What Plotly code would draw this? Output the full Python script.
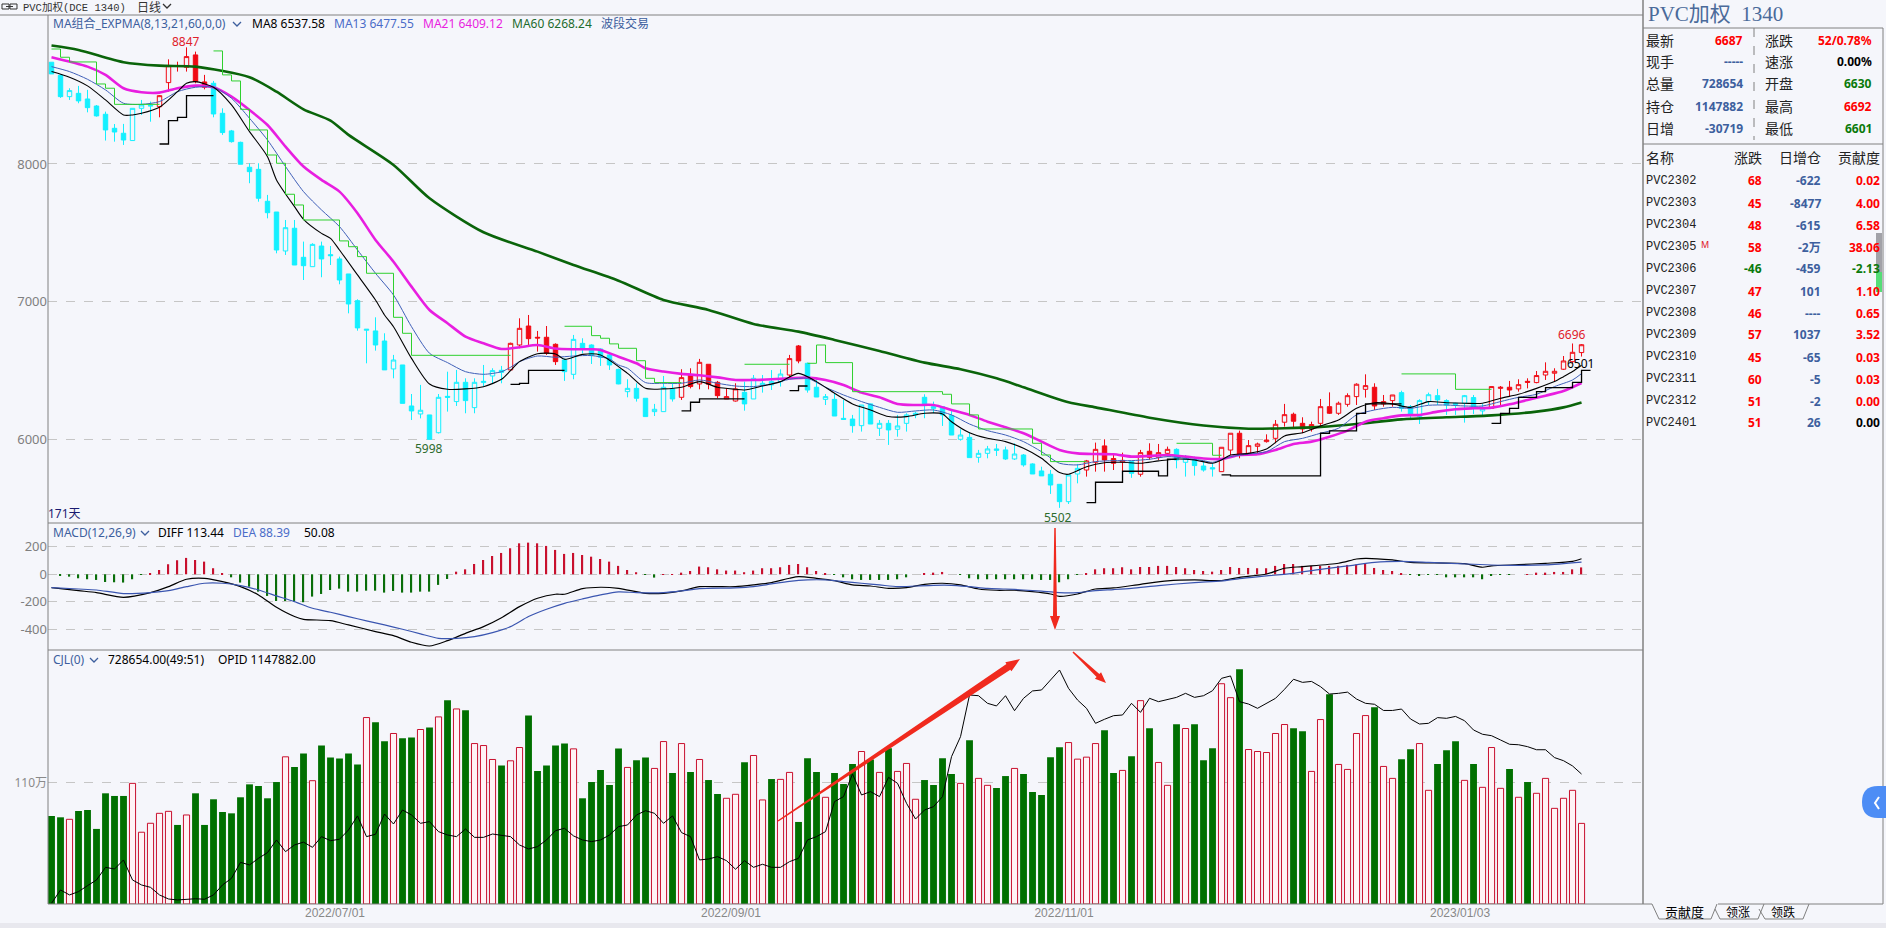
import math

import plotly.graph_objects as go

W, H = 1886, 928
BG = '#f5f6fb'
RED = '#c8102e'
BLUE = '#3d5f9e'
GRID = '#c6c6c6'

# candles, 171 trading days
opens = [8739, 8644, 8489, 8513, 8472, 8421, 8361, 8259, 8223, 8170,
         8404, 8420, 8416, 8591, 8714, 8702, 8792, 8596, 8586, 8368,
         8240, 8157, 7976, 7961, 7729, 7651, 7368, 7533, 7322, 7254,
         7404, 7341, 7310, 7201, 7007, 6792, 6787, 6714, 6511, 6540,
         6242, 6184, 6177, 6048, 6312, 6274, 6414, 6230, 6412, 6460,
         6501, 6504, 6685, 6823, 6741, 6741, 6690, 6576, 6472, 6697,
         6685, 6656, 6613, 6508, 6346, 6370, 6298, 6201, 6201, 6366,
         6305, 6467, 6402, 6545, 6414, 6293, 6278, 6341, 6293, 6395,
         6395, 6419, 6467, 6678, 6552, 6378, 6290, 6290, 6152, 6147,
         6099, 6257, 6080, 6116, 6073, 6116, 6177, 6305, 6237, 6237,
         6172, 6000, 6014, 5869, 5898, 5930, 5923, 5857, 5886, 5821,
         5770, 5746, 5673, 5547, 5748, 5777, 5833, 5952, 5860, 5835,
         5838, 5746, 5913, 5869, 5898, 5927, 5833, 5855, 5806, 5794,
         5765, 5922, 6044, 5898, 5949, 5983, 6007, 6124, 6182, 6116,
         6075, 6116, 6237, 6189, 6254, 6310, 6363, 6378, 6257, 6281,
         6339, 6237, 6165, 6274, 6317, 6281, 6262, 6262, 6303, 6206,
         6225, 6370, 6378, 6366, 6421, 6412, 6467, 6480, 6509, 6564, 6630]
closes = [8654, 8489, 8533, 8458, 8409, 8349, 8247, 8232, 8174, 8404,
          8429, 8425, 8496, 8714, 8710, 8780, 8598, 8557, 8363, 8228,
          8162, 7998, 7944, 7751, 7646, 7375, 7537, 7266, 7261, 7416,
          7310, 7334, 7157, 6983, 6809, 6799, 6685, 6504, 6576, 6261,
          6206, 6211, 6000, 6305, 6305, 6414, 6281, 6414, 6421, 6499,
          6487, 6697, 6806, 6731, 6736, 6625, 6564, 6491, 6726, 6656,
          6608, 6596, 6540, 6402, 6370, 6298, 6165, 6218, 6378, 6293,
          6448, 6383, 6559, 6400, 6317, 6310, 6366, 6257, 6443, 6407,
          6419, 6474, 6586, 6569, 6358, 6307, 6310, 6169, 6145, 6099,
          6249, 6111, 6116, 6068, 6097, 6177, 6189, 6245, 6225, 6177,
          6031, 6031, 5867, 5898, 5930, 5920, 5857, 5893, 5814, 5748,
          5734, 5668, 5547, 5741, 5789, 5843, 5927, 5850, 5826, 5847,
          5753, 5903, 5869, 5903, 5927, 5850, 5862, 5809, 5777, 5785,
          5942, 6044, 5886, 5954, 5966, 5995, 6109, 6179, 6131, 6075,
          6107, 6237, 6189, 6262, 6317, 6400, 6390, 6242, 6274, 6322,
          6225, 6177, 6281, 6324, 6286, 6249, 6254, 6317, 6230, 6225,
          6383, 6378, 6358, 6397, 6414, 6463, 6494, 6494, 6569, 6632, 6687]
highs = [8739, 8650, 8550, 8567, 8538, 8428, 8380, 8290, 8291, 8404,
         8465, 8453, 8501, 8760, 8743, 8847, 8816, 8647, 8603, 8404,
         8247, 8162, 8005, 8005, 7775, 7651, 7593, 7593, 7436, 7424,
         7436, 7404, 7327, 7201, 7017, 6799, 6886, 6770, 6613, 6540,
         6329, 6395, 6177, 6329, 6491, 6504, 6443, 6443, 6540, 6516,
         6533, 6702, 6879, 6903, 6787, 6823, 6697, 6588, 6758, 6734,
         6690, 6661, 6620, 6513, 6436, 6407, 6298, 6257, 6460, 6407,
         6509, 6516, 6584, 6545, 6424, 6370, 6407, 6419, 6467, 6467,
         6503, 6508, 6613, 6685, 6557, 6443, 6329, 6334, 6286, 6177,
         6249, 6261, 6140, 6140, 6177, 6189, 6201, 6327, 6274, 6242,
         6213, 6073, 6048, 5923, 5952, 5966, 5947, 5971, 5893, 5826,
         5801, 5777, 5673, 5741, 5821, 5850, 5976, 6000, 5898, 5903,
         5838, 5923, 5971, 5966, 5947, 5935, 5886, 5874, 5838, 5826,
         5942, 6044, 6063, 5995, 5976, 6036, 6140, 6257, 6194, 6160,
         6128, 6293, 6341, 6274, 6334, 6407, 6472, 6407, 6322, 6322,
         6353, 6249, 6291, 6339, 6366, 6291, 6266, 6322, 6322, 6257,
         6383, 6387, 6424, 6436, 6443, 6496, 6559, 6516, 6605, 6696, 6692]
lows = [8654, 8480, 8465, 8441, 8375, 8344, 8170, 8162, 8138, 8170,
        8356, 8307, 8339, 8525, 8671, 8671, 8586, 8542, 8339, 8211,
        8155, 7998, 7860, 7726, 7605, 7351, 7339, 7266, 7157, 7254,
        7177, 7266, 7126, 6915, 6789, 6552, 6644, 6504, 6443, 6261,
        6140, 6152, 5998, 6042, 6201, 6242, 6189, 6189, 6382, 6407,
        6407, 6499, 6661, 6673, 6637, 6613, 6540, 6424, 6436, 6625,
        6547, 6533, 6504, 6400, 6305, 6274, 6165, 6169, 6201, 6274,
        6286, 6370, 6363, 6363, 6298, 6293, 6274, 6208, 6293, 6339,
        6358, 6383, 6443, 6552, 6339, 6307, 6249, 6169, 6145, 6048,
        6056, 6111, 6024, 5959, 6019, 6056, 6153, 6153, 6189, 6097,
        6031, 5990, 5867, 5830, 5862, 5879, 5850, 5850, 5801, 5748,
        5734, 5603, 5502, 5530, 5680, 5729, 5765, 5765, 5777, 5765,
        5720, 5729, 5850, 5850, 5874, 5789, 5729, 5736, 5765, 5729,
        5765, 5886, 5862, 5898, 5898, 5976, 5971, 6092, 6080, 6044,
        6056, 6092, 6184, 6177, 6237, 6249, 6303, 6213, 6237, 6237,
        6201, 6145, 6111, 6249, 6249, 6177, 6177, 6121, 6184, 6169,
        6225, 6237, 6310, 6346, 6370, 6407, 6431, 6419, 6504, 6552, 6601]
red_days = [12, 13, 14, 15, 16, 17, 51, 52, 53, 54, 55, 56, 70, 71, 72, 73, 74, 75, 76, 82, 83,
            115, 116, 117, 118, 119, 121, 122, 123, 124, 130, 131, 132, 133, 134, 135, 136, 137,
            138, 139, 140, 141, 142, 143, 144, 145, 146, 147, 148, 149, 160, 161, 162, 163, 164,
            165, 166, 167, 168, 169, 170]

ma8_x = [0, 2, 4, 6, 8, 9, 10, 12, 14, 15, 16, 18, 20, 22, 24, 25, 27, 28, 30, 31, 32, 34, 36, 37, 38,
         40, 42, 44, 46, 48, 50, 51, 52, 54, 56, 57, 59, 61, 64, 66, 68, 70, 72, 74, 76, 77, 79, 81,
         83, 85, 87, 89, 91, 93, 95, 97, 99, 100, 102, 104, 106, 108, 110, 112, 113, 115, 117, 119,
         121, 123, 125, 127, 129, 130, 131, 133, 135, 137, 139, 141, 143, 145, 147, 149, 151, 153,
         155, 157, 159, 161, 163, 165, 167, 168, 169, 170]
ma8 = [8671, 8630, 8567, 8465, 8356, 8356, 8368, 8412, 8525, 8586, 8598, 8557, 8429, 8235, 8053, 7884,
       7690, 7598, 7496, 7460, 7375, 7194, 7012, 6903, 6818, 6588, 6402, 6363, 6366, 6382, 6436, 6499,
       6564, 6622, 6620, 6581, 6617, 6613, 6479, 6370, 6366, 6378, 6419, 6378, 6363, 6358, 6387, 6419,
       6479, 6419, 6334, 6257, 6213, 6165, 6165, 6189, 6184, 6128, 6048, 6007, 5983, 5935, 5862, 5758,
       5746, 5801, 5830, 5833, 5826, 5843, 5857, 5850, 5826, 5850, 5886, 5898, 5930, 6024, 6048, 6097,
       6140, 6225, 6266, 6257, 6232, 6274, 6266, 6262, 6262, 6298, 6327, 6370, 6419, 6455, 6492, 6538]

ma13_x = [0, 2, 4, 6, 8, 10, 12, 14, 16, 18, 20, 22, 24, 26, 28, 30, 32, 34, 36, 38, 40, 42, 44, 46, 48,
          50, 51, 52, 54, 56, 58, 60, 62, 63, 64, 66, 68, 70, 72, 74, 76, 78, 80, 82, 84, 86, 88, 90,
          92, 94, 96, 98, 100, 102, 104, 106, 108, 110, 112, 114, 116, 118, 120, 122, 124, 126, 128,
          129, 131, 133, 135, 137, 139, 141, 143, 145, 147, 149, 151, 153, 155, 157, 159, 161, 163,
          165, 167, 169, 170]
ma13 = [8707, 8671, 8615, 8538, 8441, 8433, 8453, 8525, 8557, 8557, 8477, 8332, 8174, 7981, 7799, 7666,
        7545, 7375, 7206, 7048, 6818, 6625, 6557, 6491, 6472, 6491, 6523, 6564, 6605, 6596, 6605, 6608,
        6583, 6540, 6516, 6412, 6407, 6407, 6431, 6407, 6387, 6383, 6402, 6436, 6443, 6378, 6322, 6274,
        6232, 6196, 6206, 6213, 6177, 6111, 6063, 6031, 5983, 5910, 5826, 5814, 5838, 5845, 5845, 5855,
        5874, 5862, 5845, 5833, 5874, 5893, 5910, 5983, 6007, 6044, 6080, 6177, 6213, 6232, 6225, 6247,
        6249, 6242, 6242, 6274, 6305, 6327, 6383, 6431, 6477]

ma21_x = [0, 4, 6, 8, 10, 12, 14, 16, 18, 20, 22, 24, 26, 28, 30, 32, 34, 36, 38, 40, 42, 44, 46, 48, 50,
          52, 54, 56, 58, 60, 61, 63, 65, 66, 68, 70, 72, 74, 76, 78, 80, 82, 84, 86, 88, 90, 92, 94, 96,
          98, 100, 102, 104, 106, 108, 110, 112, 114, 116, 118, 120, 122, 124, 126, 128, 130, 132, 134,
          136, 138, 140, 142, 144, 146, 148, 150, 152, 154, 156, 158, 160, 162, 164, 166, 168, 170]
ma21 = [8775, 8707, 8647, 8550, 8521, 8518, 8550, 8569, 8557, 8489, 8392, 8283, 8126, 7981, 7884, 7799,
        7642, 7448, 7290, 7109, 6939, 6843, 6746, 6697, 6656, 6668, 6685, 6659, 6654, 6654, 6649, 6600,
        6552, 6516, 6492, 6475, 6465, 6450, 6431, 6431, 6436, 6443, 6448, 6431, 6395, 6339, 6305, 6257,
        6249, 6249, 6213, 6177, 6128, 6087, 6044, 5983, 5923, 5898, 5893, 5891, 5874, 5879, 5886, 5874,
        5860, 5857, 5886, 5891, 5923, 5966, 5983, 6019, 6063, 6128, 6153, 6174, 6177, 6201, 6218, 6225,
        6230, 6254, 6286, 6317, 6351, 6409]

ma60_x = [0, 3, 8, 12, 16, 22, 25, 28, 31, 33, 38, 42, 48, 54, 58, 63, 68, 73, 78, 83, 87, 92, 97, 101, 105,
          108, 113, 116, 122, 128, 133, 137, 141, 145, 150, 155, 160, 165, 168, 170]
ma60 = [8860, 8828, 8739, 8714, 8707, 8630, 8525, 8397, 8315, 8211, 7993, 7751, 7504, 7363, 7266, 7152,
        7012, 6940, 6838, 6782, 6722, 6642, 6557, 6509, 6443, 6378, 6269, 6232, 6157, 6100, 6077, 6080,
        6090, 6111, 6145, 6160, 6174, 6201, 6232, 6268]

# band lines, None breaks a run
band_green_x = [0, 1, 2, 5, 6, 7, 12, None,
                18, 19, 20, 21, 22, 24, 25, 26, 27, 28, 32, 33, 34, 35, 38, 39, 40, 51, None,
                57, 60, 61, 62, 63, 65, 66, 67, 70, None,
                77, 82, None,
                84, 85, 86, 89, 99, 100, 102, 103, 109, 110, 111, 115, None,
                125, 129, 130, None,
                150, 156, 160]
band_green = [8835, 8775, 8741, 8581, 8550, 8433, 8433, None,
              8821, 8647, 8603, 8397, 8247, 8065, 8005, 7780, 7702, 7593, 7441, 7399, 7327, 7206, 6886,
              6770, 6610, 6610, None,
              6821, 6753, 6734, 6693, 6661, 6571, 6443, 6412, 6412, None,
              6545, 6545, None,
              6552, 6685, 6557, 6346, 6327, 6257, 6177, 6075, 5971, 5886, 5838, 5838, None,
              5971, 5884, 5884, None,
              6475, 6363, 6363]
band_black_x = [12, 13, 14, 15, 18, None,
                51, 52, 53, 57, None,
                70, 71, 72, 77, None,
                82, 83, 84, None,
                115, 116, 119, 123, 124, 125, None,
                130, 131, 141, 142, 145, 146, 150, None,
                160, 161, 162, 163, 165, 166, 169, 170, 171]
band_black = [8145, 8315, 8339, 8496, 8496, None,
              6399, 6406, 6501, 6501, None,
              6206, 6269, 6293, 6293, None,
              6354, 6387, 6387, None,
              5540, 5688, 5768, 5734, 5855, 5855, None,
              5741, 5734, 6044, 6061, 6189, 6257, 6257, None,
              6116, 6189, 6225, 6305, 6346, 6375, 6414, 6501, 6501]

# MACD
macd_hist = [0, -7, -17, -29, -36, -41, -56, -58, -60, -36,
             -2, 7, 31, 73, 102, 119, 104, 92, 44, 7,
             -22, -60, -90, -126, -157, -194, -194, -199, -203, -162,
             -143, -114, -104, -126, -126, -119, -119, -133, -121, -133,
             -133, -126, -126, -77, -34, 19, 36, 75, 104, 133,
             155, 189, 225, 230, 225, 206, 177, 148, 155, 140,
             128, 111, 92, 61, 31, 15, -2, -24, 2, 2,
             12, 24, 56, 51, 36, 27, 27, 15, 27, 44,
             44, 51, 68, 75, 51, 24, 7, -2, -22, -36,
             -41, -41, -41, -41, -36, -22, 0, 7, 12, 17,
             0, -2, -29, -36, -36, -36, -36, -36, -36, -36,
             -41, -41, -58, -36, -2, 7, 36, 44, 44, 51,
             36, 53, 53, 61, 61, 53, 44, 31, 24, 19,
             31, 53, 46, 46, 44, 44, 61, 75, 75, 61,
             61, 61, 61, 61, 68, 70, 80, 46, 31, 24,
             7, -5, -7, -5, -5, -22, -22, -22, -22, -36,
             -12, -5, -5, 0, 2, 12, 12, 17, 17, 36, 50]
diff_x = [0, 3, 5, 8, 11, 13, 15, 17, 19, 21, 23, 25, 27, 28, 31, 33, 36, 38, 40, 42, 44, 46, 48, 50, 52,
          54, 56, 57, 59, 61, 63, 66, 68, 70, 72, 74, 76, 78, 80, 82, 83, 85, 87, 89, 91, 93, 95, 97, 99,
          101, 103, 105, 107, 109, 111, 112, 114, 116, 118, 121, 124, 127, 130, 132, 135, 137, 139, 143,
          145, 146, 149, 151, 157, 159, 160, 163, 166, 169, 170]
diff = [-97, -119, -133, -167, -133, -90, -36, -29, -53, -90, -150, -240, -307, -327, -337, -368, -416,
        -446, -494, -521, -482, -429, -380, -315, -235, -174, -145, -145, -104, -94, -102, -138, -138,
        -121, -90, -90, -90, -77, -60, -29, -17, -29, -46, -77, -85, -102, -97, -73, -65, -77, -107, -116,
        -116, -126, -143, -160, -143, -107, -99, -73, -48, -41, -46, -22, 2, 44, 56, 80, 111, 116, 104, 87,
        77, 51, 61, 70, 80, 94, 113]
dea_x = [0, 3, 5, 8, 11, 13, 15, 17, 19, 21, 23, 25, 27, 29, 31, 33, 35, 37, 39, 41, 43, 45, 47, 49, 51, 53,
         55, 57, 59, 61, 63, 65, 68, 70, 72, 76, 78, 80, 82, 84, 86, 88, 90, 92, 94, 96, 98, 100, 102, 104,
         106, 108, 110, 112, 114, 116, 118, 120, 123, 127, 130, 132, 135, 138, 141, 144, 147, 150, 153, 158,
         162, 166, 170]
dea = [-97, -107, -114, -140, -133, -119, -90, -65, -65, -82, -114, -157, -199, -247, -276, -307, -339,
       -368, -399, -433, -465, -465, -453, -424, -380, -307, -254, -211, -179, -150, -128, -133, -133, -121,
       -104, -99, -90, -70, -51, -41, -41, -53, -65, -77, -90, -85, -80, -80, -90, -102, -107, -114, -123,
       -133, -133, -119, -111, -102, -82, -60, -48, -31, -12, 7, 36, 61, 87, 94, 87, 73, 65, 68, 88]

# volume in 万手, open interest in 万手 on its own hidden scale
volume = [79.6, 78.4, 76.6, 84.1, 85.0, 67.9, 100.1, 97.7, 97.7, 109.1,
          64.9, 73.0, 82.0, 83.8, 71.5, 80.5, 100.1, 71.5, 94.7, 83.2,
          82.0, 96.5, 108.2, 106.7, 95.6, 110.3, 133.1, 123.8, 136.1, 111.5,
          143.3, 132.5, 131.6, 136.1, 126.2, 168.6, 164.4, 147.2, 154.2, 150.0,
          150.6, 157.8, 159.6, 169.2, 184.2, 176.4, 175.2, 145.1, 143.3, 130.7,
          125.3, 129.5, 141.5, 170.4, 120.2, 125.3, 143.3, 145.1, 140.3, 95.6,
          110.3, 121.1, 107.6, 140.6, 123.5, 130.1, 132.5, 122.6, 146.9, 118.4,
          145.1, 119.3, 130.7, 112.1, 99.5, 95.6, 99.2, 128.3, 134.3, 94.1,
          113.0, 112.7, 119.0, 74.2, 131.9, 119.3, 96.5, 118.4, 108.5, 126.5,
          137.9, 130.7, 119.0, 140.9, 119.9, 127.1, 94.7, 112.1, 107.6, 131.9,
          117.5, 109.1, 148.1, 113.6, 107.3, 104.9, 115.7, 122.6, 117.5, 101.3,
          98.6, 132.8, 141.8, 146.0, 131.0, 132.8, 145.1, 157.2, 118.4, 120.8,
          133.7, 183.9, 159.0, 128.0, 107.3, 162.6, 158.7, 162.6, 130.1, 140.9,
          199.2, 186.6, 212.2, 139.7, 137.9, 137.0, 154.2, 162.3, 159.0, 156.3,
          119.9, 166.8, 189.6, 126.2, 121.7, 154.2, 170.4, 177.9, 124.4, 113.6,
          131.0, 140.0, 145.1, 102.8, 126.5, 139.1, 147.2, 111.8, 126.5, 105.5,
          141.5, 104.6, 122.0, 96.5, 110.3, 100.1, 113.6, 86.5, 95.6, 102.8, 72.9]
vol_up_days = [2, 9, 10, 11, 12, 13, 15, 26, 29, 35, 38, 41, 43, 45, 47, 48, 49, 51, 52, 58, 64, 67, 68, 70,
               72, 75, 76, 78, 79, 81, 82, 86, 90, 92, 94, 95, 96, 101, 103, 104, 107, 113, 114, 115, 116,
               119, 121, 123, 124, 126, 130, 131, 133, 134, 135, 136, 137, 140, 141, 143, 144, 145, 146,
               148, 149, 152, 153, 157, 159, 160, 161, 163, 165, 166, 167, 168, 169, 170]
open_interest = [60.5, 66.1, 64.0, 65.4, 67.9, 70.3, 75.6, 74.9, 78.7, 70.3,
                 68.2, 67.2, 64.0, 62.3, 61.9, 62.2, 62.4, 62.2, 64.0, 68.2,
                 71.0, 77.7, 76.6, 79.4, 81.8, 87.1, 82.2, 85.0, 86.2, 84.0,
                 88.5, 86.8, 87.4, 91.3, 97.2, 88.5, 89.5, 98.0, 93.8, 99.7,
                 97.6, 94.1, 94.8, 90.6, 89.2, 88.5, 91.7, 88.2, 88.2, 89.6,
                 89.2, 88.5, 85.0, 83.3, 84.3, 87.1, 91.0, 92.0, 88.8, 87.1,
                 86.4, 87.1, 89.2, 92.7, 93.4, 97.6, 99.4, 98.3, 94.1, 97.2,
                 90.2, 88.5, 78.7, 79.1, 80.1, 78.4, 74.8, 78.4, 75.6, 76.9,
                 75.6, 75.6, 78.0, 79.4, 87.1, 88.5, 90.6, 103.2, 105.3, 114.8,
                 106.0, 107.4, 105.3, 113.4, 110.9, 102.5, 95.9, 99.7, 101.1, 105.3,
                 122.1, 130.5, 148.0, 147.7, 144.5, 143.4, 147.7, 141.4, 146.6, 149.7,
                 150.1, 154.3, 158.5, 150.8, 145.9, 142.4, 136.1, 137.8, 139.3, 139.6,
                 144.5, 140.7, 146.6, 145.2, 146.2, 147.0, 148.7, 147.0, 147.7, 149.8,
                 155.0, 156.0, 145.2, 144.2, 142.4, 144.5, 146.6, 150.4, 154.6, 153.3,
                 153.7, 151.5, 148.4, 148.7, 149.2, 146.3, 144.5, 144.1, 141.5, 141.5,
                 142.1, 137.9, 135.8, 136.1, 138.5, 138.2, 139.0, 137.2, 133.3, 131.5,
                 130.9, 129.1, 127.3, 127.1, 126.3, 125.0, 125.0, 121.7, 120.4, 118.2, 114.8]

date_ticks = [31.5, 75.5, 112.5, 156.5]
date_labels = ['2022/07/01', '2022/09/01', '2022/11/01', '2023/01/03']

# right hand quote table
contracts = ['PVC2302', 'PVC2303', 'PVC2304', 'PVC2305', 'PVC2306', 'PVC2307',
             'PVC2308', 'PVC2309', 'PVC2310', 'PVC2311', 'PVC2312', 'PVC2401']
contract_change = ['68', '45', '48', '58', '-46', '47', '46', '57', '45', '60', '51', '51']
contract_oi = ['-622', '-8477', '-615', '-2万', '-459', '101', '----', '1037', '-65', '-5', '-2', '26']
contract_share = ['0.02', '4.00', '6.58', '38.06', '-2.13', '1.10', '0.65', '3.52', '0.03', '0.03', '0.00', '0.00']
quote_left = [('最新', '6687', 'red'), ('现手', '-----', BLUE), ('总量', '728654', BLUE),
              ('持仓', '1147882', BLUE), ('日增', '-30719', BLUE)]
quote_right = [('涨跌', '52/0.78%', 'red'), ('速涨', '0.00%', 'black'), ('开盘', '6630', '#0a7a0a'),
               ('最高', '6692', 'red'), ('最低', '6601', '#0a7a0a')]


def px(x):
    return x / W


def py(y):
    return 1 - y / H


annotations = []
shapes = []


def text(x, y, s, color='black', size=12, anchor='left', family='Noto Sans, Noto Sans CJK SC', bold=False):
    if bold:
        s = '<b>' + s + '</b>'
    annotations.append(dict(xref='paper', yref='paper', x=px(x), y=py(y), text=s, showarrow=False,
                            xanchor=anchor, yanchor='middle', borderpad=0,
                            font=dict(color=color, size=size, family=family)))


def rule(x0, y0, x1, y1, color='#808080', width=1, dash='solid'):
    shapes.append(dict(type='line', xref='paper', yref='paper', x0=px(x0), y0=py(y0), x1=px(x1), y1=py(y1),
                       line=dict(color=color, width=width, dash=dash), layer='above'))


def outline(points, color, width=1, fill=None, close=False):
    path = 'M ' + ' L '.join(f'{px(a):.5f} {py(b):.5f}' for a, b in points)
    if close:
        path += ' Z'
    shape = dict(type='path', xref='paper', yref='paper', path=path, layer='above',
                 line=dict(color=color, width=width))
    if fill:
        shape['fillcolor'] = fill
    shapes.append(shape)


def chevron(x, y, color=BLUE):
    outline([(x - 4, y - 2), (x, y + 2), (x + 4, y - 2)], color, 1.3)


def arrow(x0, y0, x1, y1, tail, neck, head, head_len):
    # hand drawn looking arrow, thin at the tail and wide at the neck
    d = math.hypot(x1 - x0, y1 - y0)
    ux, uy = (x1 - x0) / d, (y1 - y0) / d
    nx, ny = -uy, ux
    bx, by = x1 - ux * head_len, y1 - uy * head_len
    pts = [(x0 + nx * tail / 2, y0 + ny * tail / 2), (bx + nx * neck / 2, by + ny * neck / 2),
           (bx + nx * head / 2, by + ny * head / 2), (x1, y1),
           (bx - nx * head / 2, by - ny * head / 2), (bx - nx * neck / 2, by - ny * neck / 2),
           (x0 - nx * tail / 2, y0 - ny * tail / 2)]
    outline(pts, '#f02a1e', 0, fill='#f02a1e', close=True)


days = list(range(len(closes)))
red_set = set(red_days)
up_set = set(vol_up_days)

fig = go.Figure()


def candles(idx, color):
    fig.add_trace(go.Candlestick(x=idx,
                                 open=[opens[i] for i in idx], high=[highs[i] for i in idx],
                                 low=[lows[i] for i in idx], close=[closes[i] for i in idx],
                                 whiskerwidth=0, showlegend=False,
                                 increasing=dict(line=dict(color=color, width=1), fillcolor=BG),
                                 decreasing=dict(line=dict(color=color, width=1), fillcolor=color),
                                 xaxis='x', yaxis='y'))


candles([i for i in days if i not in red_set], '#14f0ff')
candles(red_days, '#f00a14')


def curve(x, y, color, width, axis='y'):
    fig.add_trace(go.Scatter(x=x, y=y, mode='lines', yaxis=axis, showlegend=False,
                             line=dict(color=color, width=width, shape='spline', smoothing=0.7)))


curve(ma60_x, ma60, '#0a640a', 2.6)
curve(ma21_x, ma21, '#e81ee0', 2.6)
curve(ma13_x, ma13, '#3f5fb8', 1)
curve(ma8_x, ma8, 'black', 1.1)
fig.add_trace(go.Scatter(x=band_green_x, y=band_green, mode='lines', line=dict(color='#2fd02f', width=1, shape='hv'),
                         yaxis='y', showlegend=False))
fig.add_trace(go.Scatter(x=band_black_x, y=band_black, mode='lines', line=dict(color='black', width=1.3, shape='hv'),
                         yaxis='y', showlegend=False))

fig.add_trace(go.Bar(x=days, y=macd_hist, width=0.14, yaxis='y2', showlegend=False,
                     marker=dict(color=[RED if v > 0 else '#0a6e0a' for v in macd_hist], line=dict(width=0))))
curve(diff_x, diff, 'black', 1.2, 'y2')
curve(dea_x, dea, '#3a55b0', 1.2, 'y2')

fig.add_trace(go.Bar(x=[i for i in days if i not in up_set], y=[volume[i] for i in days if i not in up_set],
                     width=0.76, yaxis='y3', showlegend=False, marker=dict(color='#007000', line=dict(width=0))))
fig.add_trace(go.Bar(x=vol_up_days, y=[volume[i] for i in vol_up_days],
                     width=0.68, yaxis='y3', showlegend=False,
                     marker=dict(color='#fff2f5', line=dict(color=RED, width=1))))
fig.add_trace(go.Scatter(x=days, y=open_interest, mode='lines', line=dict(color='black', width=1), yaxis='y4', showlegend=False))

# frame of the three panels
rule(0, 15, 1643, 15)
rule(48, 15, 48, 904)
rule(48, 523, 1643, 523)
rule(48, 650, 1643, 650)
rule(48, 904, 1643, 904)
rule(1643, 0, 1643, 904, width=1.5)
rule(1883, 28, 1883, 904)
rule(1643, 28, 1883, 28)
rule(1643, 144, 1883, 144)
rule(1754, 28, 1754, 140, dash='dash')
rule(1718, 904, 1883, 904)
rule(1643, 904, 1652, 904)
shapes.append(dict(type='rect', xref='paper', yref='paper', x0=0, x1=1, y0=py(928), y1=py(923),
                   line=dict(width=0), fillcolor='#e8e8ee', layer='below'))

# tabs
outline([(1652, 904), (1659, 919), (1711, 919), (1717, 904)], '#808080')
outline([(1715, 909), (1720, 919), (1758, 919), (1764, 904)], '#808080')
outline([(1759, 909), (1765, 919), (1803, 919), (1809, 904)], '#808080')
text(1684, 912, '贡献度', size=13, anchor='center')
text(1738, 912, '领涨', size=12, anchor='center')
text(1783, 912, '领跌', size=12, anchor='center')

# scroll handle and the side button
shapes.append(dict(type='rect', xref='paper', yref='paper', x0=px(1876), x1=px(1882), y0=py(272), y1=py(233),
                   line=dict(width=0), fillcolor='#a2a2a8', layer='above'))
shapes.append(dict(type='rect', xref='paper', yref='paper', x0=px(1876), x1=px(1882), y0=py(292), y1=py(272),
                   line=dict(width=0), fillcolor='#55dd77', layer='above'))
shapes.append(dict(type='path', xref='paper', yref='paper', layer='above', line=dict(width=0), fillcolor='#4d8df5',
                   path=f'M {px(1886)} {py(786)} L {px(1878)} {py(786)} Q {px(1862)} {py(786)} {px(1862)} {py(802)} '
                        f'Q {px(1862)} {py(818)} {px(1878)} {py(818)} L {px(1886)} {py(818)} Z'))
outline([(1879, 797), (1875, 803), (1879, 809)], 'white', 2)

# link icon top left
outline([(2, 4), (9, 4), (9, 9), (2, 9)], '#333333', close=True)
outline([(10, 4), (17, 4), (17, 9), (10, 9)], '#333333', close=True)
rule(6, 6.5, 13, 6.5, color='#333333')

# arrows on top of the chart
arrow(778, 821, 1020, 659, 1.5, 7, 11, 14)
arrow(1055, 528, 1055, 630, 1.5, 4, 10, 14)
arrow(1073, 652, 1106, 683, 1.5, 4, 9, 11)

# headers
MONO = 'Liberation Mono, Noto Sans CJK SC'
text(22, 7, 'PVC加权(DCE 1340)', color='#333333', size=10.5, family=MONO)
text(136, 7, '日线', color='#333333', size=12)
chevron(167, 6, '#333333')
text(52, 24, 'MA组合_EXPMA(8,13,21,60,0,0)', color=BLUE, size=12)
chevron(237, 24)
text(251, 24, 'MA8 6537.58', size=12)
text(333, 24, 'MA13 6477.55', color='#4a6cc8', size=12)
text(422, 24, 'MA21 6409.12', color='#e81ee0', size=12)
text(511, 24, 'MA60 6268.24', color='#1d6b2d', size=12)
text(600, 24, '波段交易', color=BLUE, size=12)
text(52, 532, 'MACD(12,26,9)', color=BLUE, size=12)
chevron(145, 533)
text(157, 532, 'DIFF 113.44', size=12)
text(232, 532, 'DEA 88.39', color='#4a6cc8', size=12)
text(303, 532, '50.08', size=12)
text(52, 659, 'CJL(0)', color=BLUE, size=12)
chevron(94, 660)
text(107, 659, '728654.00(49:51)', size=12)
text(217, 659, 'OPID 1147882.00', size=12)
text(47, 513, '171天', color='#1a1a70', size=12)

# high and low marks
text(186, 41, '8847', color='#e0202a', size=12, anchor='center')
text(429, 448, '5998', color='#2d6b2d', size=12, anchor='center')
text(1058, 517, '5502', color='#2d6b2d', size=12, anchor='center')
text(1572, 335, '6696', color='#e0202a', size=12, anchor='center')
text(1580, 363, '6501', color='black', size=12, anchor='center')

# quote panel
text(1647, 14, 'PVC加权  1340', color='#4a6a9a', size=21, family='Liberation Serif, Noto Sans CJK SC')
row_y = [40, 62, 83, 106, 128]
for y, (name, value, color) in zip(row_y, quote_left):
    text(1645, y, name, size=14, color='#222222')
    text(1744, y, value, color=color, size=12, anchor='right', bold=True)
for y, (name, value, color) in zip(row_y, quote_right):
    text(1764, y, name, size=14, color='#222222')
    text(1873, y, value, color=color, size=12, anchor='right', bold=True)
text(1645, 157, '名称', size=14, color='#222222')
text(1763, 157, '涨跌', size=14, anchor='right', color='#222222')
text(1822, 157, '日增仓', size=14, anchor='right', color='#222222')
text(1881, 157, '贡献度', size=14, anchor='right', color='#222222')
for n, name in enumerate(contracts):
    y = 181 + 22 * n
    text(1645, y, name, size=12, color='#222222', family=MONO)
    chg = contract_change[n]
    share = contract_share[n]
    text(1763, y, chg, color='#0a7a0a' if chg.startswith('-') else 'red', size=12, anchor='right', bold=True)
    text(1822, y, contract_oi[n], color=BLUE, size=12, anchor='right', bold=True)
    share_color = '#0a7a0a' if share.startswith('-') else 'red'
    if name == 'PVC2401':
        share_color = 'black'
    text(1881, y, share, color=share_color, size=12, anchor='right', bold=True)
text(1700, 244, 'M', color='#e0202a', size=9)

tick_font = dict(color='#7f7f7f', size=13, family='Noto Sans, Liberation Sans')
fig.update_layout(
    width=W, height=H, autosize=False,
    margin=dict(l=0, r=0, t=0, b=0),
    paper_bgcolor=BG, plot_bgcolor=BG,
    barmode='overlay', showlegend=False, hovermode=False,
    xaxis=dict(domain=[px(48), px(1643)], range=[-0.39, 176.83], anchor='y3', showgrid=False, zeroline=False,
               rangeslider=dict(visible=False), tickmode='array', tickvals=date_ticks, ticktext=date_labels,
               ticks='', tickfont=dict(color='#888888', size=12, family='Liberation Sans')),
    yaxis=dict(domain=[py(523), py(15)], range=[5392, 9082], anchor='x', tickmode='array',
               tickvals=[6000, 7000, 8000], ticktext=['6000', '7000', '8000'], ticks='', tickfont=tick_font,
               showgrid=True, gridcolor=GRID, griddash='dash', gridwidth=1, zeroline=False),
    yaxis2=dict(domain=[py(650), py(523)], range=[-550, 372.6], anchor='x', tickmode='array',
                tickvals=[-400, -200, 0, 200], ticktext=['-400', '-200', '0', '200'], ticks='', tickfont=tick_font,
                showgrid=True, gridcolor=GRID, griddash='dash', gridwidth=1, zeroline=False),
    yaxis3=dict(domain=[py(904), py(650)], range=[0, 229.7], anchor='x', tickmode='array',
                tickvals=[110], ticktext=['110万'], ticks='',
                tickfont=dict(color='#8a8a8a', size=12, family='Noto Sans, Noto Sans CJK SC'),
                showgrid=True, gridcolor=GRID, griddash='dash', gridwidth=1, zeroline=False),
    yaxis4=dict(domain=[py(904), py(650)], range=[60.2, 166.9], anchor='x', overlaying='y3', side='right',
                showgrid=False, zeroline=False, showticklabels=False, ticks=''),
    annotations=annotations, shapes=shapes,
)

# the page must start at the very corner of the window
fig.write_html("out.html", config=dict(displayModeBar=False),
               post_script="document.body.style.margin='0';document.body.style.overflow='hidden';")
